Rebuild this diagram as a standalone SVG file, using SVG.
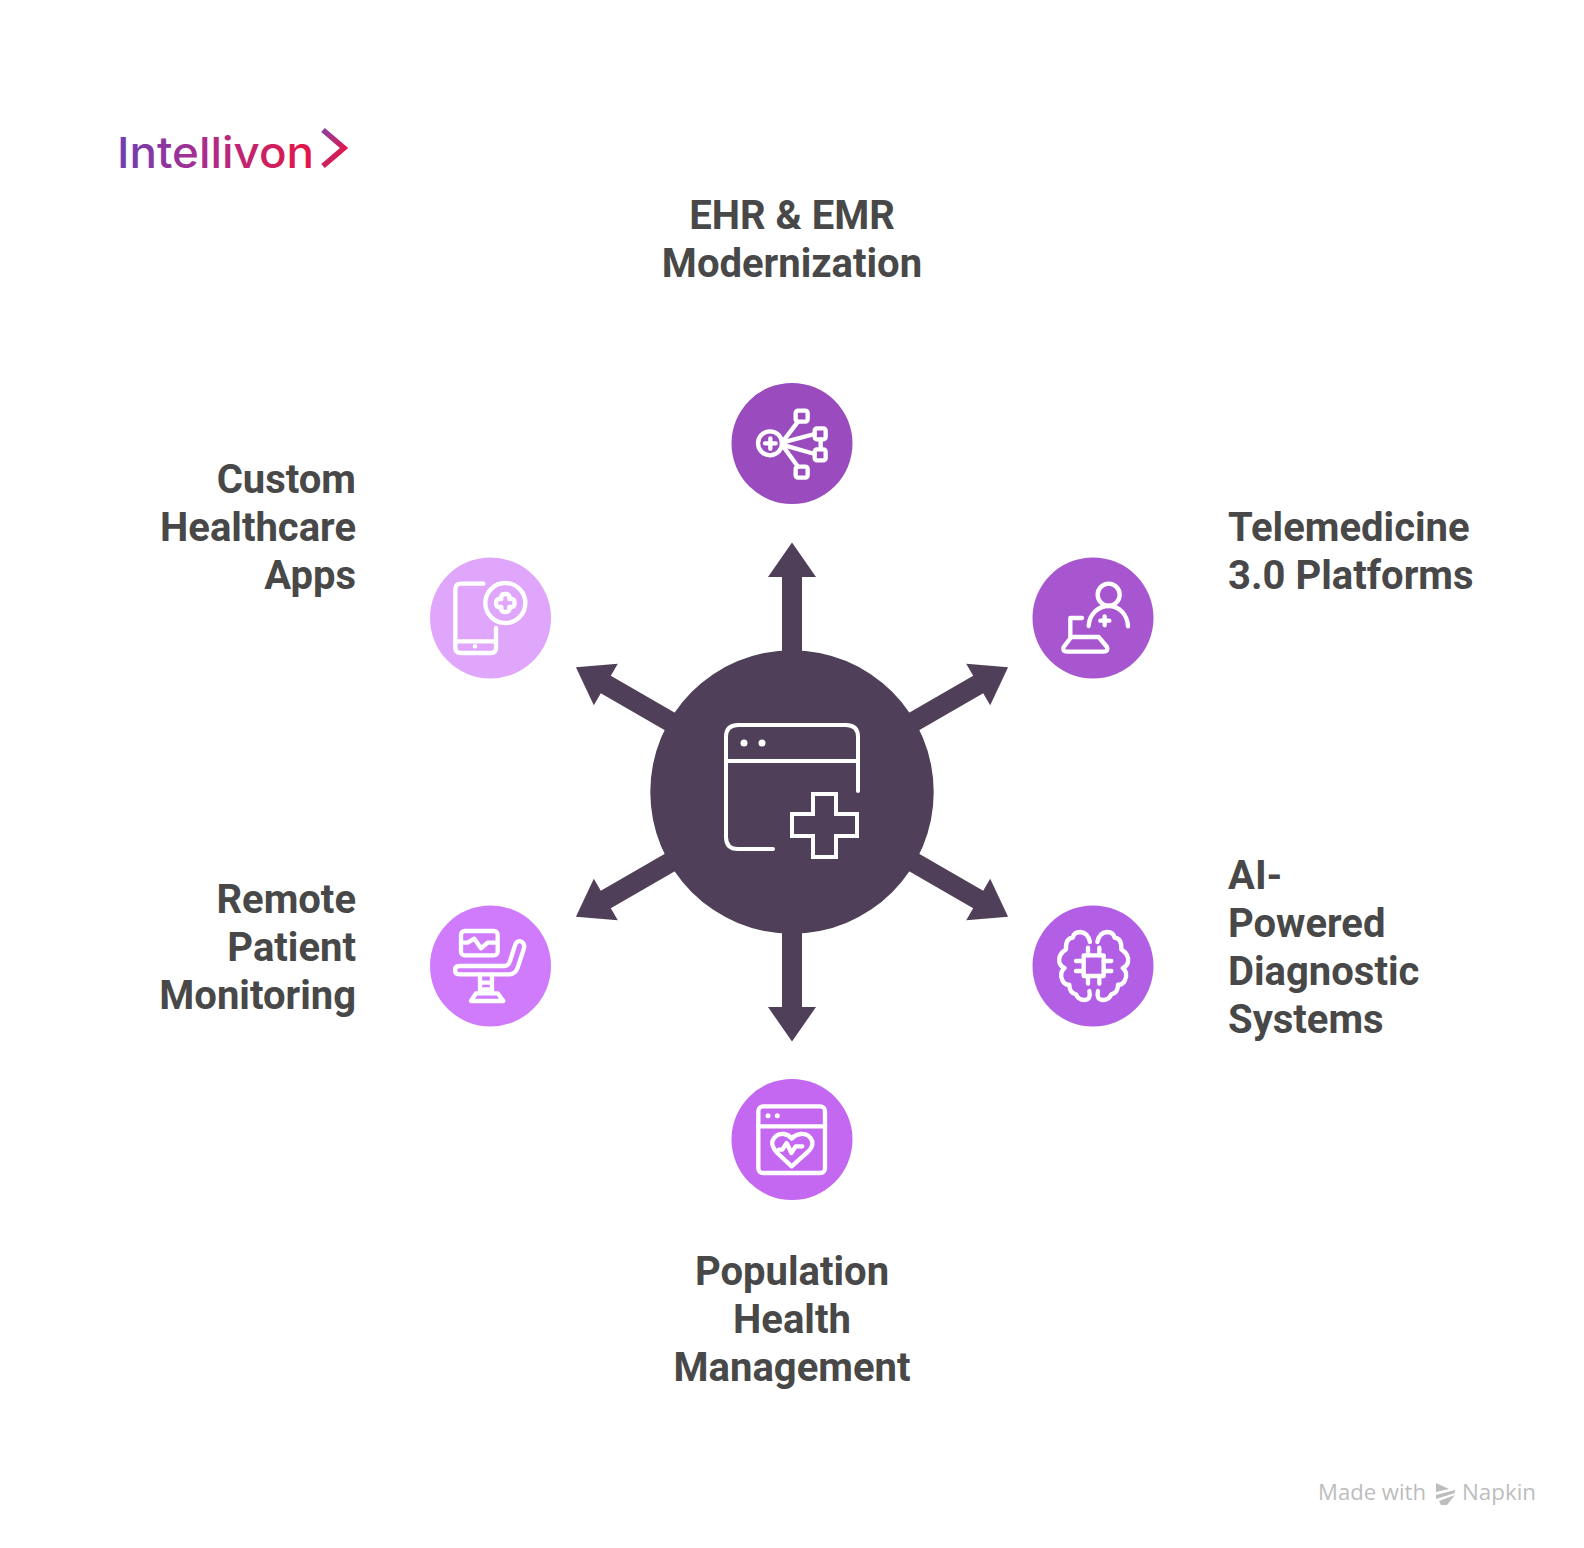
<svg xmlns="http://www.w3.org/2000/svg" width="1584" height="1548" viewBox="0 0 1584 1548">
<defs>
<style>
.t{font-family:Roboto,"Liberation Sans",sans-serif;font-weight:700;font-size:40px;fill:#484848}
.m{text-anchor:middle}.e{text-anchor:end}
.i{fill:none;stroke:#fff;stroke-width:13;stroke-linecap:round;stroke-linejoin:round}
.w{fill:#fff;stroke:none}
.f{font-family:"Open Sans","Liberation Sans",sans-serif;font-size:22px;font-weight:500;fill:#bdbdbd}
</style>
<linearGradient id="lg" gradientUnits="userSpaceOnUse" x1="118" y1="0" x2="345" y2="0"><stop offset="0" stop-color="#6f3fb4"/><stop offset=".35" stop-color="#a52f90"/><stop offset=".8" stop-color="#e0184a"/><stop offset="1" stop-color="#e0184a"/></linearGradient>
<linearGradient id="lc" gradientUnits="userSpaceOnUse" x1="322" y1="130" x2="346" y2="150"><stop offset="0" stop-color="#8a3fa6"/><stop offset="1" stop-color="#e0184a"/></linearGradient>
<polygon id="arr" points="-10,-130 -10,-215 -24,-215 0,-249.500 24,-215 10,-215 10,-130"/>
</defs>
<rect width="1584" height="1548" fill="#fff"/>
<g id="logo">
<text x="117" y="168" font-family="Inter,'Open Sans',sans-serif" font-size="43" font-weight="500" fill="url(#lg)" textLength="197" lengthAdjust="spacingAndGlyphs">Intellivon</text>
<polyline points="323,130 344,148 323,166" fill="none" stroke="url(#lc)" stroke-width="5.500"/>
</g>
<g id="connectors" fill="#503f58">
<use href="#arr" transform="translate(792,792)"/>
<use href="#arr" transform="translate(792,792) rotate(60)"/>
<use href="#arr" transform="translate(792,792) rotate(120)"/>
<use href="#arr" transform="translate(792,792) rotate(180)"/>
<use href="#arr" transform="translate(792,792) rotate(240)"/>
<use href="#arr" transform="translate(792,792) rotate(300)"/>
</g>
<g id="hub">
<circle cx="792" cy="792" r="141.700" fill="#503f58"/>
<g fill="none" stroke="#fff" stroke-width="4" stroke-linecap="round" stroke-linejoin="round">
<path d="M858 791V737Q858 725 846 725H738Q726 725 726 737V837Q726 849 738 849H773"/>
<path d="M726 761H858"/>
<path d="M813 794H836V814H857V836H836V857H813V836H792V814H813Z" stroke-linejoin="miter"/>
</g>
<circle cx="744" cy="743" r="3.500" fill="#fff"/><circle cx="762" cy="743" r="3.500" fill="#fff"/>
</g>
<g id="node-ehr">
<circle cx="792" cy="443.500" r="60.500" fill="#9a4cbe"/>
<g class="i" transform="translate(714,370) scale(.3333)">
<circle cx="168" cy="220" r="36"/><path d="M153 220H185M169 205V236"/>
<rect x="245" y="122" width="36" height="33" rx="7"/><rect x="302" y="175" width="33" height="33" rx="7"/><rect x="302" y="238" width="33" height="33" rx="7"/><rect x="245" y="290" width="36" height="33" rx="7"/>
<path d="M204 218L252 155M204 218L302 192M204 224L302 252M204 224L252 290M320 208V238"/>
</g>
<text class="t m" x="792" y="229">EHR &amp; EMR</text>
<text class="t m" x="792" y="277">Modernization</text>
</g>
<g id="node-telemedicine">
<circle cx="1093" cy="618" r="60.500" fill="#a856d0"/>
<g class="i" transform="translate(1012,542) scale(.3333)">
<circle cx="290" cy="158" r="33"/>
<path d="M230 252C232 215 260 192 290 192C320 192 346 215 348 253"/>
<path d="M265 236H292M278 223V250"/>
<path d="M210 228H175V285M178 285H260L285 315Q290 329 275 329H165Q150 329 155 315Z"/>
</g>
<text class="t" x="1228" y="541">Telemedicine</text>
<text class="t" x="1228" y="589">3.0 Platforms</text>
</g>
<g id="node-ai">
<circle cx="1093" cy="966" r="60.500" fill="#b25fe5"/>
<g class="i" transform="translate(1012,886) scale(.3333)">
<rect x="215" y="208" width="60" height="62"/>
<path d="M228 185V208M262 185V208M228 270V293M262 270V293M192 225H215M192 255H215M275 225H298M275 255H298"/>
<path d="M234 168Q228 140 205 138Q186 138 182 155Q160 158 162 190Q138 205 142 228Q145 242 158 246Q140 262 152 285Q160 298 172 296Q172 320 192 325Q198 342 218 342Q238 340 232 315"/>
<path d="M256 168Q262 140 285 138Q304 138 308 155Q330 158 328 190Q352 205 348 228Q345 242 332 246Q350 262 338 285Q330 298 318 296Q318 320 298 325Q292 342 272 342Q252 340 258 315"/>
</g>
<text class="t" x="1228" y="889">AI-</text>
<text class="t" x="1228" y="937">Powered</text>
<text class="t" x="1228" y="985">Diagnostic</text>
<text class="t" x="1228" y="1033">Systems</text>
</g>
<g id="node-population">
<circle cx="792" cy="1139.500" r="60.500" fill="#c468f2"/>
<g class="i" transform="translate(714,1058) scale(.3333)">
<rect x="133" y="145" width="200" height="200" rx="14"/>
<path d="M133 205H333"/>
<path d="M233 325L190 285Q172 265 175 250Q185 225 210 228Q225 230 233 242Q243 230 260 228Q285 225 295 250Q298 268 278 285Z"/>
<path d="M195 275H205L218 255L232 285L245 265H265"/>
</g>
<circle cx="768" cy="1115.700" r="2.500" class="w"/><circle cx="777.300" cy="1115.700" r="2.500" class="w"/>
<text class="t m" x="792" y="1285">Population</text>
<text class="t m" x="792" y="1333">Health</text>
<text class="t m" x="792" y="1381">Management</text>
</g>
<g id="node-remote">
<circle cx="490.500" cy="966" r="60.500" fill="#d07bfb"/>
<g class="i" transform="translate(416,886) scale(.3333)">
<rect x="135" y="135" width="110" height="73" rx="11"/>
<path d="M140 170H155L175 158L195 187L215 170H240"/>
<path d="M130 240H265Q278 240 282 225L298 175Q305 160 318 168Q328 175 323 190L305 245Q298 265 280 265H130Q117 265 117 252Q117 240 130 240Z"/>
<path d="M192 265V322M228 265V322M192 290H228M192 310H228"/>
<path d="M180 322H245L262 345H165Z"/>
</g>
<text class="t e" x="356" y="913">Remote</text>
<text class="t e" x="356" y="961">Patient</text>
<text class="t e" x="356" y="1009">Monitoring</text>
</g>
<g id="node-apps">
<circle cx="490.500" cy="618" r="60.500" fill="#e0a6fc"/>
<g class="i" transform="translate(416,542) scale(.3333)">
<path d="M202 125H135Q118 125 118 142V318Q118 333 135 333H225Q240 333 240 318V258"/>
<path d="M118 298H240"/>
<circle cx="268" cy="183" r="60"/>
<path d="M256 162Q258 156 268 156Q278 156 280 162V171H289Q296 173 296 183Q296 193 289 195H280V204Q278 210 268 210Q258 210 256 204V195H247Q240 193 240 183Q240 173 247 171H256Z"/>
</g>
<circle cx="475" cy="646.300" r="2.300" class="w"/>
<text class="t e" x="356" y="493">Custom</text>
<text class="t e" x="356" y="541">Healthcare</text>
<text class="t e" x="356" y="589">Apps</text>
</g>
<g id="watermark">
<text class="f" x="1318" y="1500" textLength="108" lengthAdjust="spacingAndGlyphs">Made with</text>
<path d="M1436 1483L1449 1489L1436 1492ZM1436 1495L1455 1490L1455 1493L1436 1499ZM1439 1501L1455 1495L1447 1505L1441 1505Z" fill="#bdbdbd"/>
<text class="f" x="1462" y="1500" textLength="74" lengthAdjust="spacingAndGlyphs">Napkin</text>
</g>
</svg>
